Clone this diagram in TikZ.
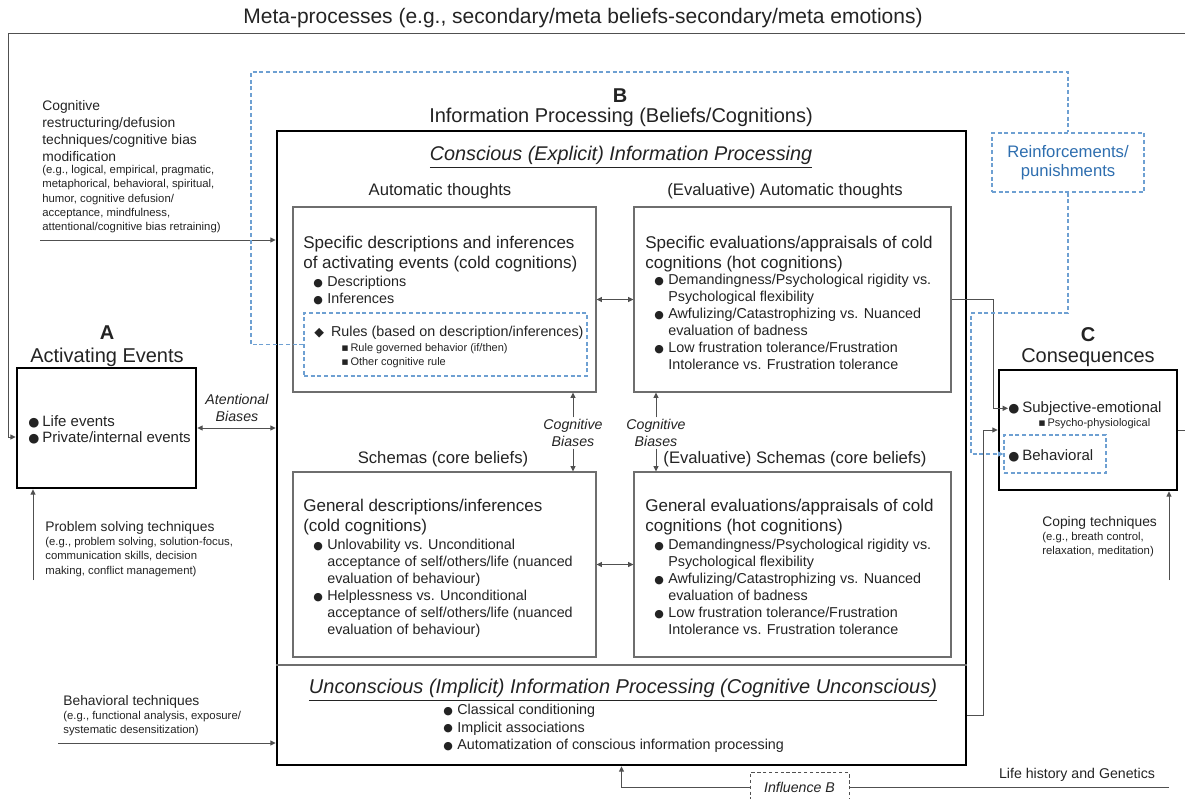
\documentclass[tikz,border=0pt]{standalone}
\usepackage{fontspec}
\setmainfont{Liberation Sans}
\newfontfamily\symfont{DejaVu Sans}
\usetikzlibrary{arrows.meta}

\newcommand{\fs}[2]{\fontsize{#1}{#2}\selectfont}
\newcommand{\bul}{\makebox[8.4pt][l]{\raisebox{0.3pt}{\symfont\fontsize{6.6}{6.6}\selectfont ●}}}
\newcommand{\bigbul}{\makebox[8.4pt][l]{\raisebox{0.1pt}{\symfont\fontsize{7.6}{7.6}\selectfont ●}}}
\newcommand{\ind}{\hspace*{8.4pt}}
\newcommand{\dia}{\makebox[10pt][l]{\symfont\fontsize{7.6}{7.6}\selectfont ◆}}
\newcommand{\sq}{\makebox[5.5pt][l]{\symfont ▪}}

\begin{document}
\begin{tikzpicture}[x=0.6pt,y=-0.6pt,
	every node/.append style={text=txt},
	thickbox/.style={draw=black,line width=1.6pt,inner sep=0},
	panel/.style={draw=boxgray,line width=0.7pt,inner sep=0},
	bluebox/.style={draw=dashblue,line width=0.7pt,dash pattern=on 2.4pt off 1.6pt,inner sep=0},
	conn/.style={draw=linegray,line width=0.6pt},
	blueline/.style={draw=dashblue,line width=0.7pt,dash pattern=on 2.4pt off 1.6pt},
	arr/.style={-{Triangle[length=3.2pt,width=3pt]}},
	dbl/.style={{Triangle[length=3.2pt,width=3pt]}-{Triangle[length=3.2pt,width=3pt]}},
	head/.style={anchor=north west,align=left,inner sep=0,font=\fs{10.2}{12}},
	items/.style={anchor=north west,align=left,inner sep=0,font=\fs{8.6}{10.2}},
	smallitems/.style={anchor=north west,align=left,inner sep=0,font=\fs{6.6}{8.4}},
	techhead/.style={anchor=north west,align=left,inner sep=0,font=\fs{8.3}{10.2}},
	techeg/.style={anchor=north west,align=left,inner sep=0,font=\fs{6.8}{8.6}},
	biaslabel/.style={align=center,inner sep=1pt,font=\itshape\fs{8.5}{10}}]
	\definecolor{txt}{RGB}{35,35,35}
	\definecolor{linegray}{RGB}{80,80,80}
	\definecolor{boxgray}{RGB}{110,110,110}
	\definecolor{dashblue}{RGB}{110,160,210}
	\definecolor{reinfblue}{RGB}{46,110,175}
	\useasboundingbox (0,0) rectangle (1185,798);

	% titles
	\node[font=\fs{12.6}{14}] (meta) at (583,18) {Meta-processes (e.g., secondary/meta beliefs-secondary/meta emotions)};
	\node[font=\bfseries\fs{12}{14}] (bletter) at (620,96) {B};
	\node[font=\fs{12}{14}] (btitle) at (621,117) {Information Processing (Beliefs/Cognitions)};
	\node[font=\bfseries\fs{12}{14}] (aletter) at (107,333) {A};
	\node[font=\fs{12}{14}] (atitle) at (107,357) {Activating Events};
	\node[font=\bfseries\fs{12}{14}] (cletter) at (1088,335) {C};
	\node[font=\fs{12}{14}] (ctitle) at (1088,358) {Consequences};

	% boxes
	\node[thickbox,minimum width=413.4pt,minimum height=380.4pt] (bbox) at (621.5,448) {};
	\node[panel,minimum width=181.8pt,minimum height=111pt] (autobox) at (444.5,299.5) {};
	\node[panel,minimum width=190.2pt,minimum height=111pt] (evalbox) at (792.5,299.5) {};
	\node[panel,minimum width=181.8pt,minimum height=111pt] (schemabox) at (444.5,564.5) {};
	\node[panel,minimum width=190.2pt,minimum height=111pt] (evalschemabox) at (792.5,564.5) {};
	\node[bluebox,minimum width=169.8pt,minimum height=37.8pt] (rules) at (445.5,344.5) {};
	\node[thickbox,minimum width=107.4pt,minimum height=72pt] (abox) at (106.5,428) {};
	\node[thickbox,minimum width=106.8pt,minimum height=72pt] (cbox) at (1088,430) {};
	\node[bluebox,minimum width=61.2pt,minimum height=22.8pt] (behav) at (1055,454) {};
	\node[bluebox,minimum width=91.2pt,minimum height=35.4pt,align=center,text=reinfblue,font=\fs{10}{11.5}] (reinf) at (1068,162.5) {Reinforcements/\\punishments};
	\node[draw=linegray,line width=0.6pt,dash pattern=on 2pt off 1.5pt,minimum width=59.4pt,minimum height=17pt,inner sep=0,font=\itshape\fs{8.5}{10}] (influence) at (799.5,787) {Influence B};
	\draw[panel] (bbox.west |- 0,665) -- (bbox.east |- 0,665);

	% conscious part
	\node[font=\itshape\fs{11.9}{13}] (conscious) at (621,157) {\underline{Conscious (Explicit) Information Processing}};
	\node[font=\fs{10}{12}] (autotitle) at (440,191) {Automatic thoughts};
	\node[font=\fs{10}{12}] (evaltitle) at (785,191) {(Evaluative) Automatic thoughts};
	\node[font=\fs{10}{12}] (schematitle) at (443,459) {Schemas (core beliefs)};
	\node[font=\fs{10}{12}] (evalschematitle) at (795,459) {(Evaluative) Schemas (core beliefs)};

	\node[head] (autohead) at (303,236) {Specific descriptions and inferences\\of activating events (cold cognitions)};
	\node[items] (autoitems) at (313,276) {\bul Descriptions\\\bul Inferences};
	\node[items] (rulestext) at (314,326) {\dia Rules (based on description/inferences)};
	\node[smallitems] (rulesub) at (341,343) {\sq Rule governed behavior (if/then)\\\sq Other cognitive rule};

	\node[head] (evalhead) at (645,236) {Specific evaluations/appraisals of cold\\cognitions (hot cognitions)};
	\node[items] (evalitems) at (654,274) {\bul Demandingness/Psychological rigidity vs.\\\ind Psychological flexibility\\\bul Awfulizing/Catastrophizing vs. Nuanced\\\ind evaluation of badness\\\bul Low frustration tolerance/Frustration\\\ind Intolerance vs. Frustration tolerance};

	\node[head] (schemahead) at (303,499) {General descriptions/inferences\\(cold cognitions)};
	\node[items] (schemaitems) at (313,539) {\bul Unlovability vs. Unconditional\\\ind acceptance of self/others/life (nuanced\\\ind evaluation of behaviour)\\\bul Helplessness vs. Unconditional\\\ind acceptance of self/others/life (nuanced\\\ind evaluation of behaviour)};

	\node[head] (evalschemahead) at (645,499) {General evaluations/appraisals of cold\\cognitions (hot cognitions)};
	\node[items] (evalschemaitems) at (654,539) {\bul Demandingness/Psychological rigidity vs.\\\ind Psychological flexibility\\\bul Awfulizing/Catastrophizing vs. Nuanced\\\ind evaluation of badness\\\bul Low frustration tolerance/Frustration\\\ind Intolerance vs. Frustration tolerance};

	% unconscious part
	\node[font=\itshape\fs{12}{13}] (unconscious) at (623,690) {\underline{Unconscious (Implicit) Information Processing (Cognitive Unconscious)}};
	\node[items,font=\fs{8.6}{10.5}] (uncitems) at (443,704) {\bul Classical conditioning\\\bul Implicit associations\\\bul Automatization of conscious information processing};

	% A and C contents
	\node[items,font=\fs{9}{9.6}] (aitems) at (28,415) {\bigbul Life events\\\bigbul Private/internal events};
	\node[items,font=\fs{9}{9.6}] (subj) at (1008,401) {\bigbul Subjective-emotional};
	\node[smallitems] (psycho) at (1038,418) {\sq Psycho-physiological};
	\node[items,font=\fs{9}{9.6}] (behavtext) at (1008,449) {\bigbul Behavioral};

	% bias labels
	\node[biaslabel] (attn) at (237,408) {Atentional\\Biases};
	\node[biaslabel] (cbleft) at (573,433) {Cognitive\\Biases};
	\node[biaslabel] (cbright) at (656,433) {Cognitive\\Biases};

	% techniques
	\node[techhead] (restructhead) at (42,100) {Cognitive\\restructuring/defusion\\techniques/cognitive bias\\modification};
	\node[techeg] (restructeg) at (42,165) {(e.g., logical, empirical, pragmatic,\\metaphorical, behavioral, spiritual,\\humor, cognitive defusion/\\acceptance, mindfulness,\\attentional/cognitive bias retraining)};
	\node[techhead] (problemhead) at (45,521) {Problem solving techniques};
	\node[techeg] (problemeg) at (45,537) {(e.g., problem solving, solution-focus,\\communication skills, decision\\making, conflict management)};
	\node[techhead] (behavhead) at (63,695) {Behavioral techniques};
	\node[techeg] (behaveg) at (63,711) {(e.g., functional analysis, exposure/\\systematic desensitization)};
	\node[techhead] (copinghead) at (1042,516) {Coping techniques};
	\node[techeg] (copingeg) at (1042,532) {(e.g., breath control,\\relaxation, meditation)};
	\node[font=\fs{8.5}{10}] (lifehist) at (1077,775) {Life history and Genetics};

	\coordinate (restructin) at (40,240);
	\coordinate (problemin) at (33,580);
	\coordinate (behavin) at (58,743);
	\coordinate (copingin) at (1169,580);
	\coordinate (lifeend) at (1169,787);

	% connectors
	\draw[conn,arr] (cbox.east) -- (1192,430) |- (8,33) |- ([yshift=-5.4pt]abox.west);
	\draw[conn,dbl] (abox.east) -- (abox.east -| bbox.west);
	\draw[conn,arr] (restructin) -- (restructin -| bbox.west);
	\draw[conn,arr] (problemin) -- (problemin |- abox.south);
	\draw[conn,arr] (behavin) -- (behavin -| bbox.west);
	\draw[conn,arr] (copingin) -- (copingin |- cbox.south);
	\draw[conn,dbl] (autobox.east) -- (evalbox.west);
	\draw[conn,dbl] (schemabox.east) -- (evalschemabox.west);
	\draw[conn,arr] (cbleft.north) -- (cbleft.north |- autobox.south);
	\draw[conn,arr] (cbleft.south) -- (cbleft.south |- schemabox.north);
	\draw[conn,arr] (cbright.north) -- (cbright.north |- evalbox.south);
	\draw[conn,arr] (cbright.south) -- (cbright.south |- evalschemabox.north);
	\draw[conn,arr] (evalbox.east) -- ++(42,0) |- (subj.west);
	\draw[conn,arr] (bbox.east |- 0,715) -- ++(16,0) |- (cbox.west);
	\draw[conn] (lifeend) -- (influence.east);
	\draw[conn,arr] (influence.west) -| (bbox.south);
	\draw[blueline] (rules.west) -- (251,344.5) |- (1068,72) -- (reinf.north);
	\draw[blueline,arr] (reinf.south) |- (971,313) |- (behav.west);
\end{tikzpicture}
\end{document}
